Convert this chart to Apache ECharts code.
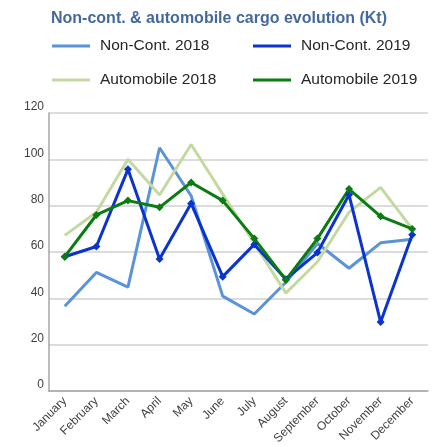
<!DOCTYPE html>
<html>
<head>
<meta charset="utf-8">
<script src="https://cdn.jsdelivr.net/npm/echarts@6/dist/echarts.min.js"></script>
<style>
  html, body { margin: 0; padding: 0; background: #fff; }
  #chart { width: 438px; height: 447px; }
</style>
</head>
<body>
<div id="chart"></div>
<script>
// 月份
const months = ['January', 'February', 'March', 'April', 'May', 'June', 'July',
  'August', 'September', 'October', 'November', 'December']
// 数据 (Kt)
const nonCont2018 = [36.6, 51.2, 44.9, 105, 84.3, 41, 33.3, 47, 63.7, 53, 64, 65.5]
const nonCont2019 = [58, 62.4, 95.7, 57, 81, 49.4, 63.3, 48.3, 59.8, 84.7, 29.8, 67.5]
const auto2018 = [67.2, 77.2, 100, 84.6, 106.4, 85, 63.7, 42.3, 55.8, 77.2, 87.9, 70]
const auto2019 = [58, 76, 82.2, 79.3, 90, 82.2, 65.8, 48, 65.8, 87.2, 75.4, 70]
const yTicks = [0, 20, 40, 60, 80, 100, 120]

const chart = echarts.init(document.getElementById('chart'))

const legendText = {
  color: '#262626',
  fontSize: 15.5,
  fontFamily: 'Liberation Sans',
  padding: [0, 0, 0, 5]
}
function legendAt (name, left, top) {
  return {
    data: [name],
    left: left,
    top: top,
    padding: 0,
    icon: 'rect',
    itemWidth: 38,
    itemHeight: 3,
    itemGap: 0,
    textStyle: legendText,
    selectedMode: false
  }
}

function lineSeries (name, data, color, marker) {
  return {
    name: name,
    type: 'line',
    data: data,
    symbol: marker ? 'diamond' : 'none',
    symbolSize: 8,
    showSymbol: marker,
    lineStyle: { color: color, width: 3 },
    itemStyle: { color: color },
    z: marker ? 3 : 2
  }
}

const option = {
  animation: false,
  title: {
    text: 'Non-cont. & automobile cargo evolution (Kt)',
    left: 'center',
    top: 11,
    padding: 0,
    textStyle: {
      color: '#44699c',
      fontSize: 16,
      fontWeight: 'bold',
      fontFamily: 'Liberation Sans'
    }
  },
  legend: [
    legendAt('Non-Cont. 2018', 52, 38),
    legendAt('Non-Cont. 2019', 253, 38),
    legendAt('Automobile 2018', 52, 72),
    legendAt('Automobile 2019', 253, 72)
  ],
  grid: { left: 49, right: 10, top: 113, bottom: 53 },
  xAxis: {
    type: 'category',
    data: months,
    boundaryGap: true,
    axisLine: { lineStyle: { color: '#a6a6a6', width: 1.5 } },
    axisTick: { length: 5, lineStyle: { color: '#a6a6a6', width: 1.5 } },
    axisLabel: {
      interval: 0,
      rotate: 45,
      color: '#404040',
      fontSize: 12,
      fontFamily: 'Liberation Sans',
      margin: 8
    }
  },
  yAxis: {
    type: 'value',
    min: yTicks[0],
    max: yTicks[yTicks.length - 1],
    interval: 20,
    axisLine: { show: true, lineStyle: { color: '#a6a6a6', width: 1.5 } },
    axisTick: { show: false },
    axisLabel: {
      color: '#404040',
      fontSize: 12,
      fontFamily: 'Liberation Sans',
      margin: 5,
      verticalAlign: 'bottom'
    },
    splitLine: { lineStyle: { color: '#d0d0d0', width: 1.5 } }
  },
  series: [
    lineSeries('Non-Cont. 2018', nonCont2018, '#5b93d8', false),
    lineSeries('Automobile 2018', auto2018, '#c4d9a2', false),
    lineSeries('Non-Cont. 2019', nonCont2019, '#0a33cf', true),
    lineSeries('Automobile 2019', auto2019, '#0a7d12', true)
  ]
}
chart.setOption(option)
</script>
</body>
</html>
